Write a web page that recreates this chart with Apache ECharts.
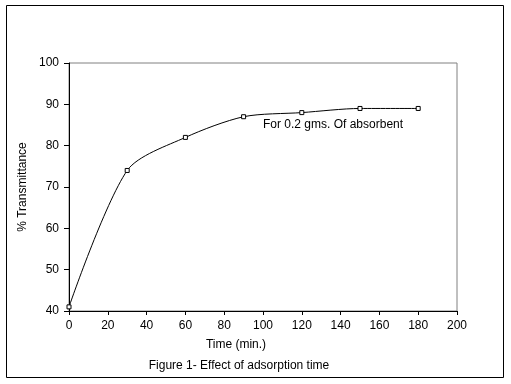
<!DOCTYPE html>
<html><head><meta charset="utf-8">
<script src="https://cdn.jsdelivr.net/npm/echarts@6/dist/echarts.min.js"></script>
<style>html,body{margin:0;padding:0;background:#fff}#c{width:511px;height:384px}</style>
</head><body><div id="c"></div>
<script>
const times = [0, 30, 60, 90, 120, 150, 180];
const transmittance = [41, 74, 82, 87, 88, 89, 89];
const xTicks = [0, 20, 40, 60, 80, 100, 120, 140, 160, 180, 200];
const yTicks = [40, 50, 60, 70, 80, 90, 100];
const seriesLabel = 'For 0.2 gms. Of absorbent';
const xTitle = 'Time (min.)';
const yTitle = '% Transmittance';
const caption = 'Figure 1- Effect of adsorption time';

const font = 'Liberation Sans, Arial, sans-serif';
const chart = echarts.init(document.getElementById('c'), null, {renderer: 'canvas'});
chart.setOption({
  animation: false,
  backgroundColor: '#fff',
  grid: {left: 69, top: 63, width: 388, height: 248, show: true, borderColor: '#808080', borderWidth: 1, backgroundColor: 'transparent'},
  xAxis: {
    type: 'value', min: xTicks[0], max: xTicks[xTicks.length - 1], interval: 20,
    axisLine: {show: true, lineStyle: {color: '#000', width: 1}},
    axisTick: {show: true, length: 4, lineStyle: {color: '#000'}},
    axisLabel: {color: '#000', fontFamily: font, fontSize: 12, margin: 9},
    splitLine: {show: false}
  },
  yAxis: {
    type: 'value', min: yTicks[0], max: yTicks[yTicks.length - 1], interval: 10,
    axisLine: {show: true, lineStyle: {color: '#000', width: 1}},
    axisTick: {show: true, length: 5, lineStyle: {color: '#000'}},
    axisLabel: {color: '#000', fontFamily: font, fontSize: 12, margin: 10},
    splitLine: {show: false}
  },
  series: [{
    type: 'line',
    name: seriesLabel,
    data: times.map((t, i) => [t, transmittance[i]]),
    smooth: 0.28,
    symbol: 'rect',
    symbolSize: 4,
    showAllSymbol: true,
    itemStyle: {color: '#fff', borderColor: '#000', borderWidth: 1},
    lineStyle: {color: '#000', width: 1}
  }],
  graphic: [
    {type: 'rect', shape: {x: 6.5, y: 5.5, width: 497, height: 372}, style: {fill: 'none', stroke: '#000', lineWidth: 1}, z: -1},
    {type: 'text', left: 263, top: 119, style: {text: seriesLabel, font: '12px ' + font, fill: '#000'}},
    {type: 'text', x: 236, y: 345, style: {text: xTitle, font: '12px ' + font, fill: '#000', align: 'center', verticalAlign: 'middle'}},
    {type: 'text', x: 239, y: 366, style: {text: caption, font: '12px ' + font, fill: '#000', align: 'center', verticalAlign: 'middle'}},
    {type: 'text', x: 23, y: 187, rotation: Math.PI / 2, style: {text: yTitle, font: '12px ' + font, fill: '#000', align: 'center', verticalAlign: 'middle'}}
  ]
});
</script></body></html>
